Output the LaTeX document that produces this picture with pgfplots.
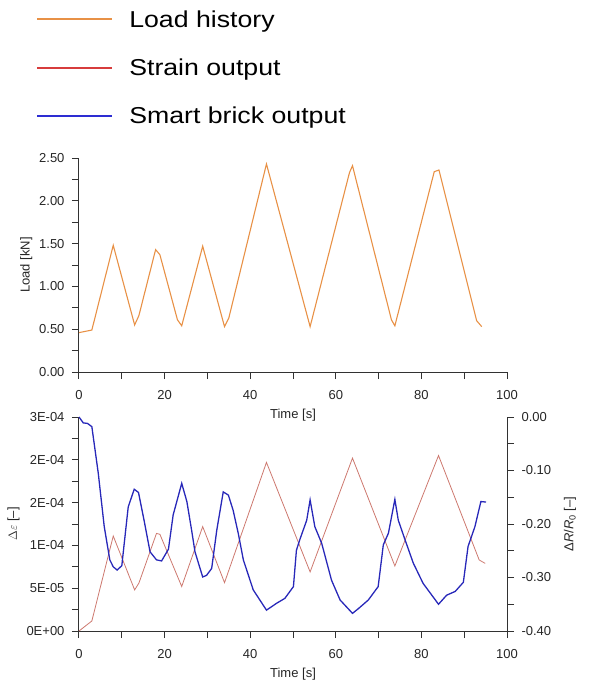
\documentclass[border=0pt]{standalone}
\usepackage{fontspec}
\setmainfont{Liberation Sans}
\newfontfamily\legendfont[FakeStretch=1.16]{Liberation Sans}
\usepackage{pgfplots}
\pgfplotsset{compat=1.18}

\definecolor{loadcol}{RGB}{232,145,70}
\definecolor{straincol}{RGB}{205,120,110}
\definecolor{strainleg}{RGB}{215,60,60}
\definecolor{brickcol}{RGB}{40,40,185}
\definecolor{brickleg}{RGB}{45,45,210}
\definecolor{axiscol}{RGB}{50,50,50}

\pgfplotsset{
  chartaxis/.style={
    scale only axis, width=428pt, height=214pt,
    xmin=0, xmax=100, xtick={0,20,...,100}, minor xtick={10,30,...,90},
    axis line style={axiscol, line width=1pt, -},
    tick style={axiscol, line width=1pt},
    major tick length=7pt, minor tick length=7pt,
    tick align=outside,
    ticklabel style={font=\fontsize{13}{15}\selectfont, text=black!85},
    xticklabel style={yshift=-8pt},
    yticklabel style={xshift=-4pt},
    label style={font=\fontsize{13}{15}\selectfont, text=black!85},
    xlabel style={yshift=-2pt},
    /pgf/number format/assume math mode=true,
    clip=false,
  }
}

\begin{document}
\begin{tikzpicture}
% top: load history
\begin{axis}[chartaxis,
  at={(79pt,-372pt)}, anchor=south west,
  axis x line*=bottom, axis y line*=left,
  ymin=0, ymax=2.5, ytick={0,0.5,...,2.5}, minor ytick={0.25,0.75,...,2.25},
  yticklabel style={/pgf/number format/.cd, fixed, fixed zerofill, precision=2},
  xlabel={Time [s]}, ylabel={Load [kN]},
  legend style={at={(-0.1002,1.70)}, anchor=north west, draw=none, fill=none,
    inner sep=0pt, font=\legendfont\fontsize{23}{27}\selectfont, row sep=26pt,
    /tikz/every odd column/.append style={column sep=14pt}},
  legend cell align=left,
  legend image code/.code={\draw[#1, line width=2pt] (0pt,0pt) -- (75pt,0pt);},
]
\addplot[color=loadcol, line width=1.1pt] coordinates {
  (0,0.46) (3,0.49) (8,1.48) (13,0.55) (14,0.66) (17.9,1.43) (18.9,1.37)
  (23,0.61) (24,0.54) (28.9,1.47) (34,0.53) (35,0.63) (43.8,2.43) (54,0.53)
  (63.2,2.33) (63.9,2.41) (73,0.61) (73.8,0.54) (83,2.34) (84.1,2.36)
  (92.9,0.60) (94.1,0.53)
};
\addlegendentry{Load history}
\addlegendimage{color=strainleg}
\addlegendentry{Strain output}
\addlegendimage{color=brickleg}
\addlegendentry{Smart brick output}
\end{axis}

% bottom left: strain
\begin{axis}[chartaxis,
  at={(79pt,-631pt)}, anchor=south west,
  axis x line*=bottom, axis y line*=left,
  ymin=0, ymax=2.5e-4, scaled y ticks=false,
  ytick={0,5e-5,1e-4,1.5e-4,2e-4,2.5e-4},
  yticklabels={0E+00,5E-05,1E-04,2E-04,2E-04,3E-04},
  minor ytick={2.5e-5,7.5e-5,1.25e-4,1.75e-4,2.25e-4},
  xlabel={Time [s]}, ylabel={$\Delta\varepsilon$ [–]},
]
\addplot[straincol, line width=0.8pt] coordinates {
  (0,0) (3,1.17e-5) (8,1.11e-4) (13,4.8e-5) (14,5.6e-5) (18.1,1.14e-4)
  (18.9,1.13e-4) (24,5.2e-5) (28.9,1.22e-4) (34,5.65e-5) (43.8,1.97e-4)
  (54,6.9e-5) (63.9,2.02e-4) (73.8,7.6e-5) (84,2.05e-4) (93.5,8.3e-5)
  (94.9,7.9e-5)
};
\end{axis}

% bottom right: smart brick
\begin{axis}[chartaxis,
  at={(79pt,-631pt)}, anchor=south west,
  axis x line=none, axis y line*=right,
  yticklabel style={xshift=8pt},
  ylabel style={yshift=-6pt},
  ymin=-0.4, ymax=0,
  ytick={-0.4,-0.3,-0.2,-0.1,0},
  yticklabels={-0.40,-0.30,-0.20,-0.10,0.00},
  minor ytick={-0.35,-0.25,-0.15,-0.05},
  ylabel={Δ\textit{R}/\textit{R}\textsubscript{0} [–]},
]
\addplot[brickcol, line width=1.3pt] coordinates {
  (0,0) (1,-0.011) (2,-0.012) (3,-0.018) (4.5,-0.105) (5.9,-0.205)
  (7.2,-0.267) (8,-0.28) (8.9,-0.286) (10,-0.278) (11.5,-0.168)
  (12.9,-0.135) (13.9,-0.141) (15.2,-0.193) (16.6,-0.252) (18.1,-0.267)
  (19.3,-0.269) (20.9,-0.247) (22,-0.183) (24,-0.124) (25.2,-0.158)
  (26.3,-0.211) (27.1,-0.252) (28.9,-0.299) (29.8,-0.296) (31,-0.283)
  (32.2,-0.211) (33.7,-0.14) (34.9,-0.146) (36,-0.174) (37.2,-0.217)
  (38.4,-0.267) (40.7,-0.323) (43.8,-0.361) (46.2,-0.348) (48.1,-0.339)
  (50.1,-0.317) (50.8,-0.249) (51.6,-0.229) (53.2,-0.193) (54,-0.155)
  (55.1,-0.205) (56.7,-0.236) (59,-0.305) (61,-0.342) (63.9,-0.367)
  (65.3,-0.358) (67.6,-0.342) (69.9,-0.317) (71.1,-0.239) (72.3,-0.217)
  (73.8,-0.154) (74.6,-0.193) (76.2,-0.230) (78.1,-0.273) (80.4,-0.311)
  (84,-0.350) (85.9,-0.333) (87.9,-0.326) (89.8,-0.309) (90.9,-0.242)
  (92.5,-0.205) (93.9,-0.158) (95.1,-0.159)
};
\end{axis}
\pgfresetboundingbox
\path (0pt,0pt) rectangle (595pt,-681pt);
\end{tikzpicture}
\end{document}
